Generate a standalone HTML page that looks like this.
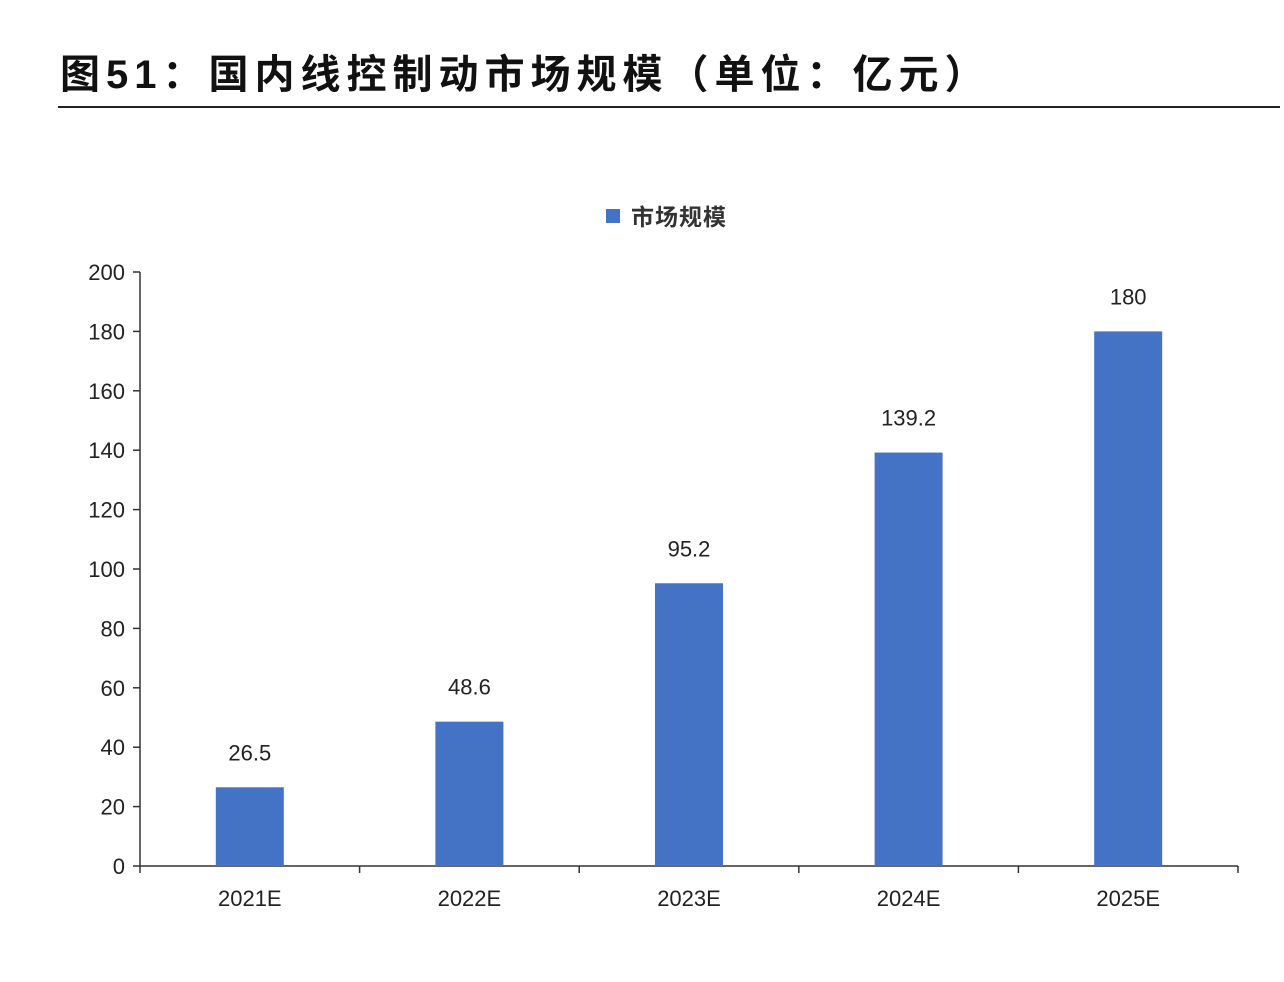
<!DOCTYPE html>
<html><head><meta charset="utf-8"><style>
html,body{margin:0;padding:0;background:#fff;}
body{width:1284px;height:982px;position:relative;overflow:hidden;font-family:"Liberation Sans","Noto Sans CJK SC",sans-serif;}
#title{position:absolute;left:60px;top:42px;font-size:40px;font-weight:bold;color:#111;white-space:nowrap;letter-spacing:6px;}
#rule{position:absolute;left:58px;top:106px;width:1222px;height:2px;background:#222;}
</style></head><body>
<div id="title">图51：国内线控制动市场规模（单位：亿元）</div>
<div id="rule"></div>
<svg id="chart" width="1284" height="982" style="position:absolute;left:0;top:0"></svg>
<script>
const categories=["2021E","2022E","2023E","2024E","2025E"];
const values=[26.5,48.6,95.2,139.2,180];
const valueLabels=["26.5","48.6","95.2","139.2","180"];
const yTicks=[0,20,40,60,80,100,120,140,160,180,200];
const svg=document.getElementById('chart');
const NS='http://www.w3.org/2000/svg';
const x0=140,x1=1238,yTop=272,yBot=866,yMax=200;
const bw=(x1-x0)/categories.length;
const y=v=>yBot-(v/yMax)*(yBot-yTop);
const xc=i=>x0+bw*(i+0.5);
function mk(t,a){const e=document.createElementNS(NS,t);for(const k in a)e.setAttribute(k,a[k]);svg.appendChild(e);return e;}
let e=mk('rect',{x:606,y:209,width:14,height:14,fill:'#4472c4'});


e=mk('text',{x:631,y:225,'font-size':23,'font-weight':'bold',fill:'#333','letter-spacing':1});e.textContent='市场规模';


e=mk('line',{x1:x0,y1:yTop,x2:x0,y2:yBot,stroke:'#333','stroke-width':1.5});


e=mk('line',{x1:x0,y1:yBot,x2:x1,y2:yBot,stroke:'#333','stroke-width':1.5});


yTicks.forEach(t=>{
  const l=mk('line',{x1:x0-7,y1:y(t),x2:x0,y2:y(t),stroke:'#333','stroke-width':1.5});
  
  
  const tx=mk('text',{x:125,y:y(t)+8,'font-size':22,'text-anchor':'end',fill:'#222'});tx.textContent=t;
  
  
});
for(let i=0;i<=categories.length;i++){
  const l=mk('line',{x1:x0+bw*i,y1:yBot,x2:x0+bw*i,y2:yBot+7,stroke:'#333','stroke-width':1.5});
  
  
}
categories.forEach((c,i)=>{
  const b=mk('rect',{x:xc(i)-34,y:y(values[i]),width:68,height:yBot-y(values[i]),fill:'#4472c4'});
  
  
  const v=mk('text',{x:xc(i),y:y(values[i])-27,'font-size':22,'text-anchor':'middle',fill:'#222'});v.textContent=valueLabels[i];
  
  
  const t=mk('text',{x:xc(i),y:906,'font-size':22,'text-anchor':'middle',fill:'#222'});t.textContent=c;
  
  
});
</script>
</body></html>
